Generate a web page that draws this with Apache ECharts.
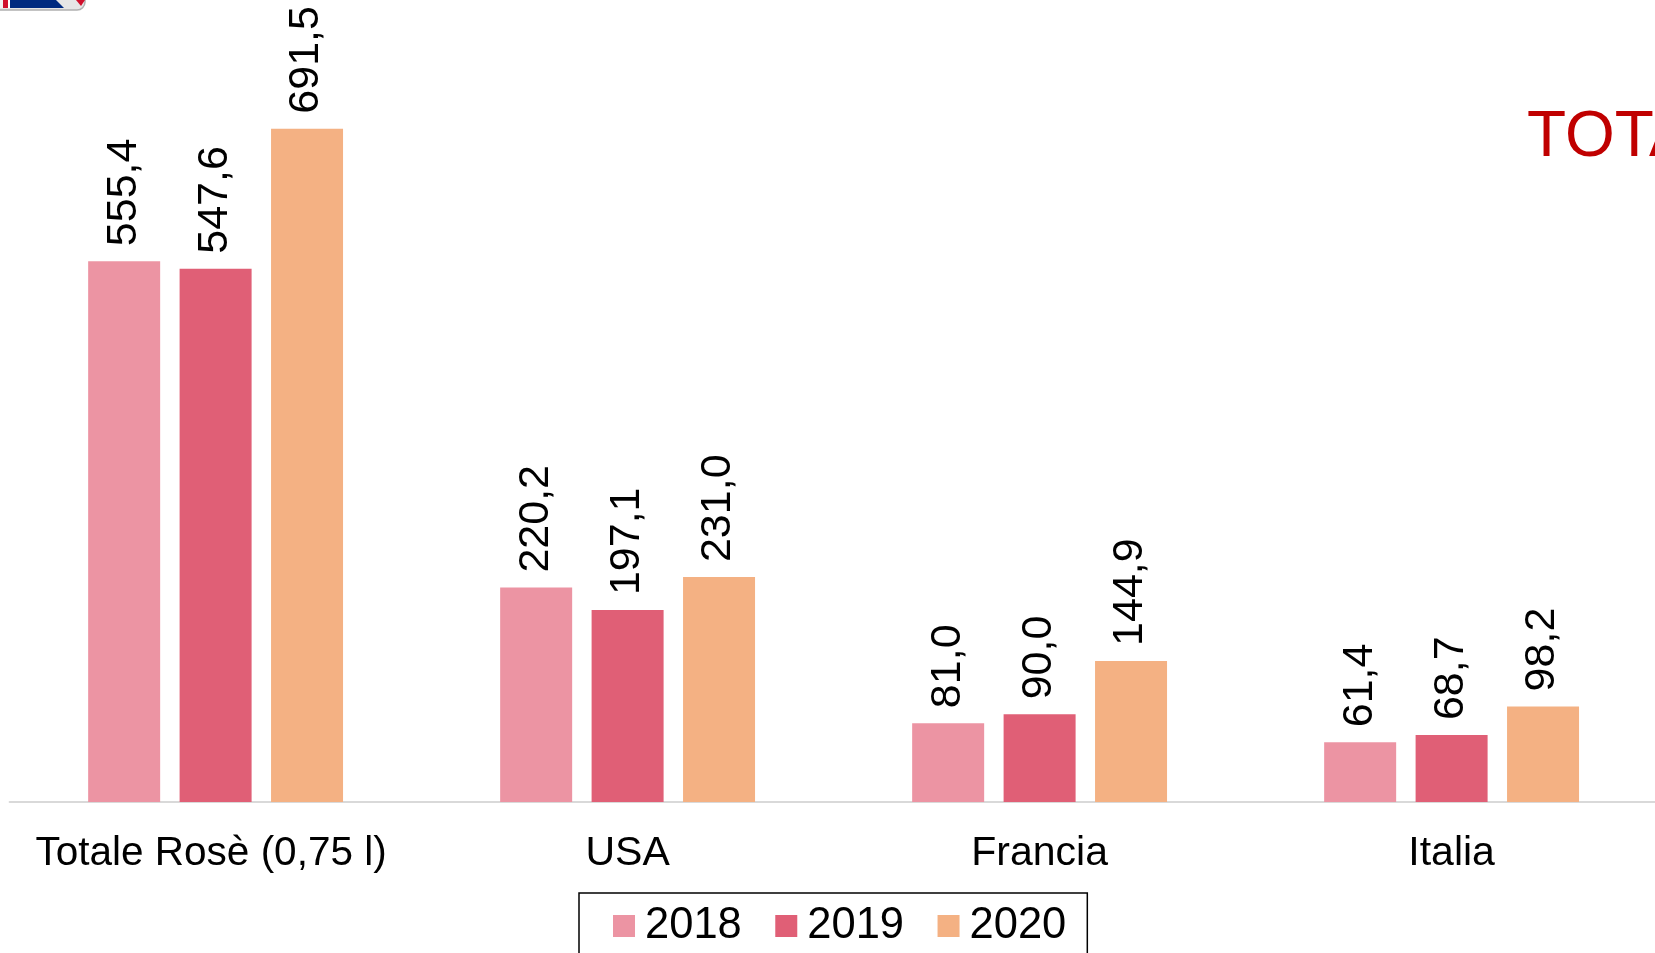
<!DOCTYPE html>
<html><head><meta charset="utf-8">
<style>html,body{margin:0;padding:0;background:#fff;overflow:hidden;width:1655px;height:953px}#c{width:1670px;height:953px}</style>
<script src="https://cdn.jsdelivr.net/npm/echarts@6/dist/echarts.min.js"></script>
</head><body><div id="c"></div>
<script>
const categories = ['Totale Rosè (0,75 l)', 'USA', 'Francia', 'Italia'];
const values2018 = [555.4, 220.2, 81.0, 61.4];
const values2019 = [547.6, 197.1, 90.0, 68.7];
const values2020 = [691.5, 231.0, 144.9, 98.2];
const FONT = '"Liberation Sans", Arial, sans-serif';
const chart = echarts.init(document.getElementById('c'), null, {renderer:'canvas'});
function s(name, data, color){
  return {name, type:'bar', data, barWidth:72, barGap:'27%', itemStyle:{color},
    label:{show:true, position:'top', rotate:90, align:'left', verticalAlign:'middle', distance:15, offset:[0,-0.5],
      color:'#000', fontFamily:FONT, fontSize:43,
      formatter:p=>p.value.toFixed(1).replace('.',',')}, animation:false};
}
chart.setOption({
  animation:false,
  backgroundColor:'#fff',
  grid:{left:9.6, width:1648, top:23, height:779, containLabel:false},
  xAxis:{type:'category', data:categories,
    axisLine:{lineStyle:{color:'#d9d9d9', width:2}}, axisTick:{show:false},
    axisLabel:{color:'#000', fontFamily:FONT, fontSize:41, margin:31, interval:0,
      formatter:(v,i)=> i===0 ? '{first|'+v+'}' : v,
      rich:{first:{fontFamily:FONT, fontSize:40.5, color:'#000', padding:[0,9,0,0]}}}},
  yAxis:{type:'value', min:0, max:800, show:false, splitLine:{show:false}},
  legend:{left:579, top:893, orient:'horizontal', itemWidth:22, itemHeight:22, itemGap:33.5,
    icon:'rect', borderColor:'#000', borderWidth:1.5, padding:[11,21,24,34],
    textStyle:{color:'#000', fontFamily:FONT, fontSize:43.5, padding:[0,0,0,5]},
    data:['2018','2019','2020']},
  graphic:[
    {type:'text', left:1527, top:106, silent:true,
     style:{text:'TOTALE', fill:'#c00000', font:'64px '+FONT}},
    {type:'group', x:0, y:0, silent:true, children:[
      {type:'rect', shape:{x:-10,y:-20,width:95,height:30,r:8}, style:{fill:'#e6e6e6', stroke:'#b0b0b0', lineWidth:1.5}},
      {type:'rect', shape:{x:0,y:0,width:3,height:8}, style:{fill:'#f2f2f2'}},
      {type:'rect', shape:{x:3,y:0,width:5,height:8}, style:{fill:'#d0102c'}},
      {type:'rect', shape:{x:8,y:0,width:2,height:8}, style:{fill:'#ffffff'}},
      {type:'polygon', shape:{points:[[10,0],[56,0],[64,8],[10,8]]}, style:{fill:'#002a80'}},
      {type:'polygon', shape:{points:[[76,0],[85,0],[81,6]]}, style:{fill:'#d0102c'}}
    ]}
  ],
  series:[s('2018',values2018,'#EC94A3'), s('2019',values2019,'#E05F76'), s('2020',values2020,'#F4B183')]
});
</script></body></html>
